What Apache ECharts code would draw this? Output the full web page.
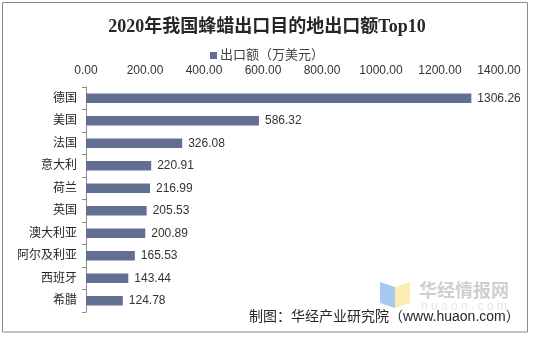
<!DOCTYPE html>
<html>
<head>
<meta charset="utf-8">
<script src="https://cdn.jsdelivr.net/npm/echarts@6/dist/echarts.min.js"></script>
<style>
  html, body { margin: 0; padding: 0; background: #fff; }
  #chart { width: 534px; height: 337px; }
</style>
</head>
<body>
<div id="chart"></div>
<script>
// 2020 beeswax export destinations, top 10 by value (10k USD)
const countries = ['德国', '美国', '法国', '意大利', '荷兰', '英国', '澳大利亚', '阿尔及利亚', '西班牙', '希腊'];
const exportValues = [1306.26, 586.32, 326.08, 220.91, 216.99, 205.53, 200.89, 165.53, 143.44, 124.78];
const valueTicks = [0, 200, 400, 600, 800, 1000, 1200, 1400];

const cjk = "'Liberation Sans', 'Noto Sans CJK SC', sans-serif";
const chart = echarts.init(document.getElementById('chart'), null, { renderer: 'canvas' });

chart.setOption({
  backgroundColor: '#ffffff',
  animation: false,
  title: {
    text: '2020年我国蜂蜡出口目的地出口额Top10',
    left: 'center',
    top: 13,
    textStyle: {
      fontFamily: "'Liberation Serif', 'Noto Sans CJK SC', serif",
      fontSize: 18,
      fontWeight: 'bold',
      color: '#262626'
    }
  },
  legend: {
    data: ['出口额（万美元）'],
    left: 205,
    top: 44,
    itemWidth: 7,
    itemHeight: 7,
    itemGap: 4,
    icon: 'rect',
    textStyle: { fontFamily: cjk, fontSize: 13, color: '#404040', padding: [0, 0, 0, -2] }
  },
  grid: { left: 86, right: 35, top: 87, bottom: 25 },
  xAxis: {
    type: 'value',
    position: 'top',
    min: valueTicks[0],
    max: valueTicks[valueTicks.length - 1],
    interval: valueTicks[1] - valueTicks[0],
    axisLine: { show: false },
    axisTick: { show: false },
    splitLine: { show: false },
    axisLabel: {
      margin: 10,
      fontFamily: cjk,
      fontSize: 12,
      color: '#333333',
      formatter: v => v.toFixed(2)
    }
  },
  yAxis: {
    type: 'category',
    inverse: true,
    data: countries,
    axisLine: { show: true, lineStyle: { color: '#8c8c8c', width: 1 } },
    axisTick: { show: true, length: 4, lineStyle: { color: '#8c8c8c' } },
    axisLabel: { margin: 9, fontFamily: cjk, fontSize: 12, color: '#262626' }
  },
  series: [{
    name: '出口额（万美元）',
    type: 'bar',
    data: exportValues,
    barWidth: '42%',
    itemStyle: { color: '#636e93' },
    label: {
      show: true,
      position: 'right',
      distance: 6,
      fontFamily: cjk,
      fontSize: 12,
      color: '#333333',
      formatter: p => p.value.toFixed(2)
    }
  }],
  graphic: [
    {
      type: 'rect',
      shape: { x: 2.5, y: 2.5, width: 525, height: 329.5 },
      style: { fill: null, stroke: '#8a8a8a', lineWidth: 1 },
      silent: true, z: 10
    },
    // brand mark: folded blue / yellow panels
    {
      type: 'polygon',
      shape: { points: [[380, 282], [395, 287], [395, 308], [380, 303]] },
      style: { fill: '#a7c8f0' }, silent: true
    },
    {
      type: 'polygon',
      shape: { points: [[395, 287], [410, 282], [410, 303], [395, 308]] },
      style: { fill: '#fbeeb0' }, silent: true
    },
    {
      type: 'text',
      left: 419, top: 283,
      style: { text: '华经情报网', fontFamily: cjk, fontSize: 18, fontWeight: 'bold', fill: '#cfcfcf' },
      silent: true
    },
    {
      type: 'text',
      left: 421, top: 301,
      style: { text: 'h u a o n . c o m', fontFamily: cjk, fontSize: 12, fill: '#e6e6e6' },
      silent: true
    },
    {
      type: 'text',
      left: 249, top: 310,
      style: { text: '制图：华经产业研究院（www.huaon.com）', fontFamily: cjk, fontSize: 14, fill: '#262626' },
      silent: true, z: 5
    }
  ]
});
</script>
</body>
</html>
